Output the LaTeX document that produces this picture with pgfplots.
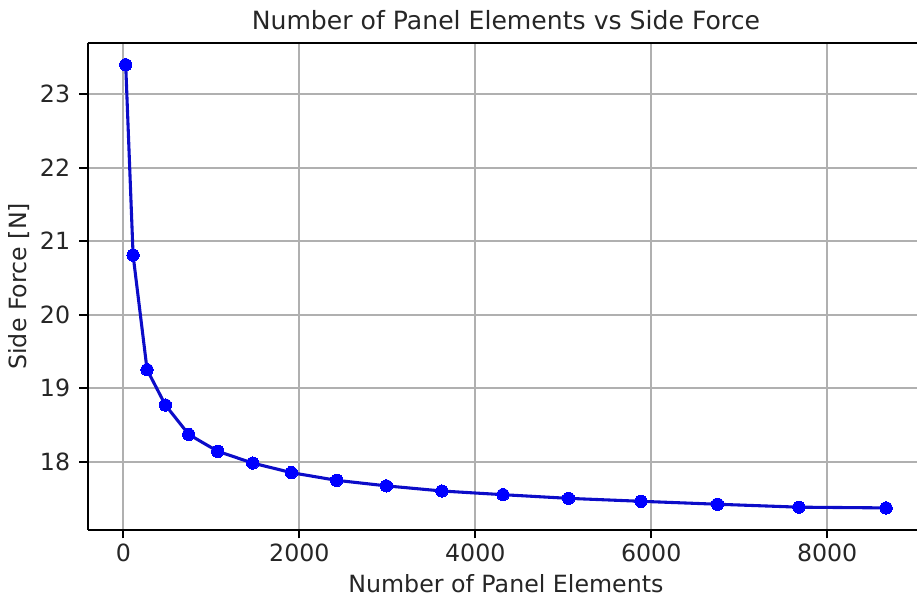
\documentclass[border=0pt]{standalone}
\usepackage{pgfplots}
\pgfplotsset{compat=1.18}
\usepackage{fontspec}
\setmainfont{DejaVu Sans}
\definecolor{linecol}{RGB}{12,12,200}
\definecolor{gridcol}{RGB}{176,176,176}
\begin{document}
\begin{tikzpicture}
\begin{axis}[
  name=ax, at={(0,0)}, anchor=south west,
  scale only axis, width=352.9pt, height=205.6pt,
  xmin=-406, xmax=9102, ymin=17.07, ymax=23.70,
  axis x line*=box, axis y line*=left,
  xtick={0,2000,4000,6000,8000},
  ytick={18,19,20,21,22,23},
  scaled x ticks=false,
  /pgf/number format/assume math mode=true,
  /pgf/number format/1000 sep={},
  tick align=outside, major tick length=3.5pt,
  every tick/.style={black, line width=0.8pt},
  xtick pos=bottom, ytick pos=left,
  axis line style={line width=0.8pt, black},
  grid=major,
  major grid style={gridcol, line width=0.8pt},
  ticklabel style={font=\fontsize{10}{12}\selectfont, text=black!85},
  xticklabel style={anchor=base, yshift=-9.9pt, inner sep=0pt},
  yticklabel style={anchor=east, xshift=-3.7pt, inner sep=0pt},
  every axis title shift=0pt,
  title={Number of Panel Elements vs Side Force},
  title style={at={(0.5,1.0275)}, anchor=base, inner sep=0pt, font=\fontsize{10.6}{12}\selectfont, text=black!85},
  xlabel={Number of Panel Elements},
  xlabel style={at={(0.5,-0.128)}, anchor=base, inner sep=0pt, font=\fontsize{10}{12}\selectfont, text=black!85},
  ylabel={Side Force [N]},
  ylabel style={at={(-0.0728,0.5)}, anchor=base, inner sep=0pt, font=\fontsize{10}{12}\selectfont, text=black!85},
]
\addplot[color=linecol, line width=1.3pt, mark=*, mark size=2.6pt, mark options={fill=blue, draw=blue, line width=0pt}] coordinates {
(26,23.40) (110,20.81) (269,19.25) (477,18.77) (742,18.37) (1072,18.14)
(1470,17.98) (1909,17.85) (2424,17.745) (2989,17.67) (3621,17.60)
(4315,17.55) (5060,17.50) (5883,17.46) (6753,17.42) (7678,17.38) (8670,17.37)
};
\end{axis}
\pgfresetboundingbox
\useasboundingbox ([shift={(-37pt,-30pt)}]ax.south west) rectangle ([shift={(349.9pt,223.6pt)}]ax.south west);
\end{tikzpicture}
\end{document}
